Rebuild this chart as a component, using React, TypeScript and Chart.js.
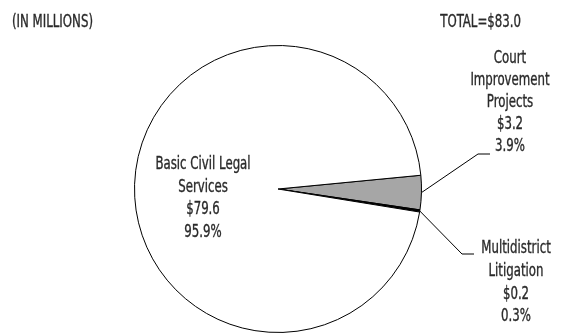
import React, { useEffect, useRef } from "react";
import { Chart, registerables } from "chart.js";

Chart.register(...registerables);

const categories = ["Court Improvement Projects", "Multidistrict Litigation", "Basic Civil Legal Services"];
const values = [3.2, 0.2, 79.6];
const percents = ["3.9%", "0.3%", "95.9%"];
const labelLines = [["Court", "Improvement", "Projects"], ["Multidistrict", "Litigation"], ["Basic Civil Legal", "Services"]];
const sliceColors = ["#a6a6a6", "#000000", "#ffffff"];
const unitNote = "(IN MILLIONS)";
const totalNote = "TOTAL=$83.0";

const FONT = "17px 'DejaVu Sans Condensed', 'Liberation Sans Narrow', sans-serif";
const SX = 0.77;

function squeezedText(ctx: CanvasRenderingContext2D, t: string, x: number, y: number, align: CanvasTextAlign) {
  ctx.save();
  ctx.translate(x, y);
  ctx.scale(SX, 1);
  ctx.textAlign = align;
  ctx.fillText(t, 0, 0);
  ctx.strokeStyle = "#2a2a2a";
  ctx.lineWidth = 0.35;
  ctx.strokeText(t, 0, 0);
  ctx.restore();
}

const labelPlugin = {
  id: "pieLabels",
  afterDraw(chart: any) {
    const ctx = chart.ctx as CanvasRenderingContext2D;
    const meta = chart.getDatasetMeta(0);
    ctx.save();
    ctx.font = FONT;
    ctx.fillStyle = "#2a2a2a";
    ctx.textBaseline = "middle";
    squeezedText(ctx, unitNote, 12, 23, "left");
    squeezedText(ctx, totalNote, 521, 23, "right");

    const mid = (i: number) => {
      const a: any = meta.data[i];
      const p = a.getProps(["x", "y", "startAngle", "endAngle", "outerRadius"], true);
      const ang = (p.startAngle + p.endAngle) / 2;
      return { x: p.x + Math.cos(ang) * p.outerRadius, y: p.y + Math.sin(ang) * p.outerRadius };
    };

    const blocks = [
      { cx: 510, y0: 59, dy: 22, elbow: { x: 478, y: 154 }, end: 490 },
      { cx: 516, y0: 249, dy: 22.6, elbow: { x: 462, y: 254 }, end: 474 },
      { cx: 203, y0: 165, dy: 22.5, elbow: null as any, end: 0 },
    ];
    blocks.forEach((b, i) => {
      const lines = [...labelLines[i], "$" + values[i].toFixed(1), percents[i]];
      lines.forEach((t, k) => squeezedText(ctx, t, b.cx, b.y0 + k * b.dy, "center"));
      if (b.elbow) {
        const m = mid(i);
        ctx.strokeStyle = "#000";
        ctx.lineWidth = 1;
        ctx.beginPath();
        ctx.moveTo(m.x, m.y);
        ctx.lineTo(b.elbow.x, b.elbow.y);
        ctx.lineTo(b.end, b.elbow.y);
        ctx.stroke();
      }
    });
    ctx.restore();
  },
};

export default function App() {
  const ref = useRef<HTMLCanvasElement>(null);
  useEffect(() => {
    document.body.style.margin = "0";
    const chart = new Chart(ref.current!, {
      type: "pie",
      data: {
        labels: categories,
        datasets: [
          {
            data: values,
            backgroundColor: sliceColors,
            borderColor: "#000000",
            borderWidth: 1,
          },
        ],
      },
      options: {
        animation: false,
        responsive: false,
        rotation: 84.5,
        layout: { padding: { left: 133, right: 151, top: 45, bottom: -2 } },
        plugins: { legend: { display: false }, tooltip: { enabled: false } },
      },
      plugins: [labelPlugin],
    });
    return () => chart.destroy();
  }, []);
  return (
    <div style={{ position: "fixed", left: 0, top: 0, width: 574, height: 333, background: "#fff" }}>
      <canvas ref={ref} width={574} height={333} style={{ width: 574, height: 333 }} />
    </div>
  );
}
